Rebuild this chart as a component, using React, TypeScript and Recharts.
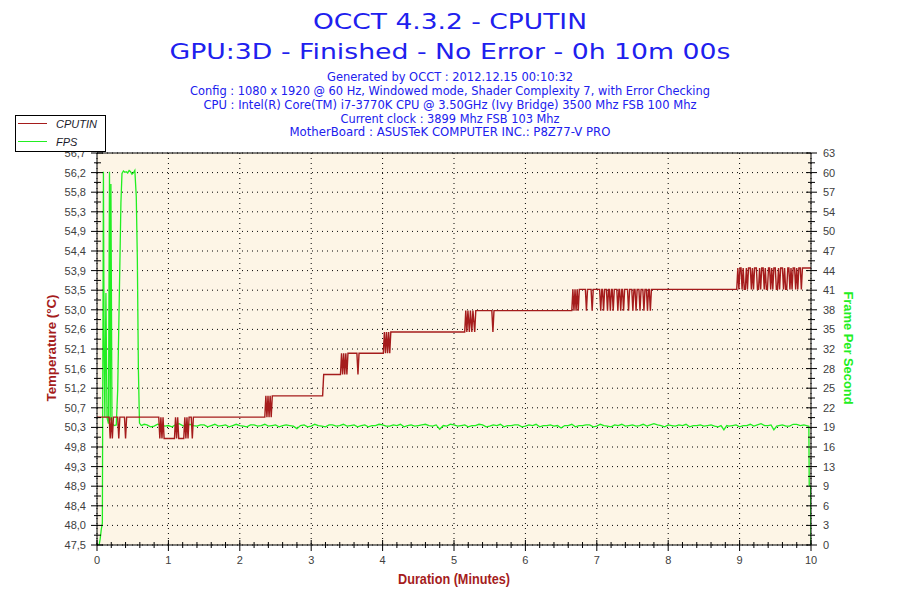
import React from "react";
import { LineChart, Line, XAxis, YAxis, CartesianGrid, ReferenceLine } from "recharts";

// ---- axis ticks / labels ----
const xMajor = [0, 1, 2, 3, 4, 5, 6, 7, 8, 9, 10];
const xLabels = ["0", "1", "2", "3", "4", "5", "6", "7", "8", "9", "10"];

const tempMajor = [47.5, 47.96, 48.42, 48.88, 49.34, 49.8, 50.26, 50.72, 51.18, 51.64, 52.1, 52.56, 53.02, 53.48, 53.94, 54.4, 54.86, 55.32, 55.78, 56.24, 56.7];
const tempLabels = ["47,5", "48,0", "48,4", "48,9", "49,3", "49,8", "50,3", "50,7", "51,2", "51,6", "52,1", "52,6", "53,0", "53,5", "53,9", "54,4", "54,9", "55,3", "55,8", "56,2", "56,7"];

const fpsMajor = [0, 3.15, 6.3, 9.45, 12.6, 15.75, 18.9, 22.05, 25.2, 28.35, 31.5, 34.65, 37.8, 40.95, 44.1, 47.25, 50.4, 53.55, 56.7, 59.85, 63];
const fpsLabels = ["0", "3", "6", "9", "13", "16", "19", "22", "25", "28", "32", "35", "38", "41", "44", "47", "50", "54", "57", "60", "63"];

// ---- series: [minutes, value] ----
const cputinSamples: [number, number][] = [
  [0, 50.5], [0.17, 50.5], [0.185, 50.0], [0.2, 50.5], [0.215, 50.0], [0.23, 50.5],
  [0.29, 50.5], [0.305, 50.0], [0.32, 50.5],
  [0.385, 50.5], [0.4, 50.0], [0.415, 50.5],
  [0.865, 50.5], [0.88, 50.0], [0.895, 50.5], [0.91, 50.0], [0.925, 50.5], [0.94, 50.0],
  [1.085, 50.0], [1.1, 50.5], [1.115, 50.0], [1.13, 50.5], [1.145, 50.0],
  [1.215, 50.0], [1.23, 50.5], [1.245, 50.0], [1.26, 50.5], [1.275, 50.0], [1.29, 50.5],
  [1.32, 50.5], [1.335, 50.0], [1.35, 50.5],
  [2.35, 50.5], [2.365, 51.0], [2.38, 50.5], [2.395, 51.0], [2.41, 50.5], [2.425, 51.0], [2.44, 50.5], [2.455, 51.0],
  [3.16, 51.0], [3.175, 51.5],
  [3.41, 51.5], [3.425, 52.0], [3.44, 51.5], [3.455, 52.0], [3.47, 51.5], [3.485, 52.0], [3.5, 51.5], [3.515, 52.0],
  [3.64, 52.0], [3.655, 51.5], [3.67, 52.0],
  [4.01, 52.0], [4.025, 52.5], [4.04, 52.0], [4.055, 52.5], [4.07, 52.0], [4.085, 52.5], [4.1, 52.0], [4.115, 52.5],
  [5.15, 52.5], [5.165, 53.0], [5.18, 52.5], [5.195, 53.0], [5.215, 52.5], [5.23, 53.0], [5.25, 52.5], [5.265, 53.0],
  [5.29, 52.5], [5.305, 53.0],
  [5.53, 53.0], [5.545, 52.5], [5.56, 53.0],
  [6.65, 53.0], [6.665, 53.5], [6.68, 53.0], [6.695, 53.5], [6.71, 53.0], [6.725, 53.5], [6.74, 53.0], [6.755, 53.5],
  [6.84, 53.5], [6.855, 53.0], [6.87, 53.5],
  [6.92, 53.5], [6.935, 53.0], [6.95, 53.5],
  [7.04, 53.5], [7.055, 53.0], [7.07, 53.5], [7.08, 53.5], [7.095, 53.0], [7.11, 53.5],
  [7.135, 53.5], [7.15, 53.0], [7.165, 53.5], [7.175, 53.5], [7.19, 53.0], [7.205, 53.5],
  [7.215, 53.5], [7.23, 53.0], [7.245, 53.5],
  [7.28, 53.5], [7.295, 53.0], [7.31, 53.5], [7.32, 53.5], [7.335, 53.0], [7.35, 53.5], [7.36, 53.5], [7.375, 53.0], [7.39, 53.5],
  [7.43, 53.5], [7.445, 53.0], [7.46, 53.5],
  [7.49, 53.5], [7.505, 53.0], [7.52, 53.5],
  [7.535, 53.5], [7.55, 53.0], [7.565, 53.5], [7.59, 53.5], [7.605, 53.0], [7.62, 53.5],
  [7.645, 53.5], [7.66, 53.0], [7.675, 53.5],
  [7.695, 53.5], [7.71, 53.0], [7.725, 53.5], [7.735, 53.5], [7.75, 53.0], [7.765, 53.5],
  [8.96, 53.5], [8.975, 54.0], [8.99, 53.5], [9.005, 54.0], [9.02, 54.0], [9.035, 53.5], [9.05, 54.0], [9.065, 53.5],
  [9.08, 53.5], [9.095, 54.0], [9.11, 53.5], [9.125, 54.0], [9.15, 54.0], [9.165, 53.5], [9.18, 54.0], [9.195, 53.5],
  [9.21, 54.0], [9.235, 54.0], [9.25, 53.5], [9.265, 53.5], [9.28, 54.0], [9.295, 53.5], [9.31, 54.0], [9.33, 54.0],
  [9.345, 53.5], [9.36, 54.0], [9.375, 53.5], [9.39, 53.5], [9.405, 54.0], [9.42, 54.0], [9.435, 53.5], [9.45, 54.0],
  [9.465, 53.5], [9.48, 54.0], [9.5, 54.0], [9.515, 53.5], [9.53, 53.5], [9.545, 54.0], [9.56, 53.5], [9.575, 54.0],
  [9.6, 54.0], [9.615, 53.5], [9.63, 54.0], [9.645, 53.5], [9.66, 53.5], [9.675, 54.0], [9.69, 54.0], [9.705, 53.5],
  [9.72, 54.0], [9.735, 53.5], [9.75, 54.0], [9.77, 54.0], [9.785, 53.5], [9.8, 54.0], [9.815, 53.5], [9.83, 54.0],
  [9.85, 54.0], [9.865, 53.5], [9.88, 54.0], [10, 54.0],
];

const fpsSamples: [number, number][] = [
  [0, 0], [0.03, 0], [0.045, 1], [0.06, 2.5], [0.075, 3.5], [0.09, 60], [0.1, 31], [0.11, 20.5],
  [0.125, 40.5], [0.14, 20.5], [0.16, 19.5], [0.175, 60], [0.185, 20], [0.195, 58], [0.21, 19.5],
  [0.24, 19.2], [0.27, 19.3], [0.29, 25], [0.305, 35], [0.32, 45], [0.335, 55], [0.35, 59.7],
  [0.37, 60.1], [0.39, 59.9], [0.41, 60], [0.43, 59.8], [0.45, 60.2], [0.47, 60], [0.49, 59.6],
  [0.51, 59.8], [0.53, 60.2], [0.55, 56], [0.565, 46], [0.58, 28], [0.595, 19.6],
  [0.62, 19.2], [0.66, 19.4], [0.7, 19.3], [0.75, 19.0], [0.8, 19.1], [0.85, 19.4], [0.9, 19.3], [0.95, 19.1],
  [1.0, 19.2], [1.05, 19.0], [1.1, 19.3], [1.15, 19.5], [1.2, 19.2], [1.25, 19.0], [1.3, 19.4], [1.35, 19.2],
  [1.4, 19.1], [1.45, 19.3], [1.5, 19.3], [1.55, 19.0], [1.6, 19.2], [1.65, 19.4], [1.7, 19.1], [1.75, 19.2],
  [1.8, 19.3], [1.85, 19.0], [1.9, 19.2], [1.95, 19.4], [2.0, 19.2], [2.05, 19.1], [2.1, 19.0], [2.15, 19.3],
  [2.2, 19.3], [2.25, 19.1], [2.3, 19.2], [2.35, 19.4], [2.4, 19.1], [2.45, 19.2], [2.5, 19.3], [2.55, 19.0],
  [2.6, 19.2], [2.65, 19.3], [2.7, 19.2], [2.75, 19.1], [2.8, 18.7], [2.85, 19.2], [2.9, 19.3], [2.95, 19.0],
  [3.0, 19.1], [3.05, 19.4], [3.1, 19.2], [3.15, 19.1], [3.2, 19.0], [3.25, 19.3], [3.3, 19.3], [3.35, 19.1],
  [3.4, 19.2], [3.45, 19.4], [3.5, 19.1], [3.55, 19.2], [3.6, 19.3], [3.65, 19.0], [3.7, 19.2], [3.75, 19.3],
  [3.8, 19.0], [3.85, 19.2], [3.9, 19.2], [3.95, 19.4], [4.0, 19.3], [4.05, 19.1], [4.1, 19.1], [4.15, 19.3],
  [4.2, 19.2], [4.25, 19.4], [4.3, 19.0], [4.35, 19.2], [4.4, 19.3], [4.45, 19.1], [4.5, 19.2], [4.55, 19.3],
  [4.6, 19.4], [4.65, 19.2], [4.7, 19.1], [4.75, 19.3], [4.8, 18.6], [4.85, 19.2], [4.9, 19.1], [4.95, 19.4],
  [5.0, 19.3], [5.05, 19.1], [5.1, 19.2], [5.15, 19.3], [5.2, 19.0], [5.25, 19.2], [5.3, 19.2], [5.35, 19.4],
  [5.4, 19.3], [5.45, 19.0], [5.5, 19.1], [5.55, 19.3], [5.6, 19.2], [5.65, 19.4], [5.7, 19.0], [5.75, 19.2],
  [5.8, 19.2], [5.85, 19.3], [5.9, 19.3], [5.95, 19.0], [6.0, 19.1], [6.05, 19.3], [6.1, 19.2], [6.15, 19.4],
  [6.2, 19.0], [6.25, 19.2], [6.3, 19.2], [6.35, 19.3], [6.4, 19.1], [6.45, 19.2], [6.5, 18.8], [6.55, 19.2],
  [6.6, 19.2], [6.65, 19.4], [6.7, 19.0], [6.75, 19.2], [6.8, 19.2], [6.85, 19.3], [6.9, 19.3], [6.95, 19.0],
  [7.0, 19.1], [7.05, 19.4], [7.1, 19.2], [7.15, 19.1], [7.2, 19.0], [7.25, 19.3], [7.3, 19.2], [7.35, 19.4],
  [7.4, 19.1], [7.45, 19.2], [7.5, 19.3], [7.55, 19.1], [7.6, 19.2], [7.65, 19.4], [7.7, 19.1], [7.75, 19.3],
  [7.8, 19.5], [7.85, 19.3], [7.9, 19.2], [7.95, 19.0], [8.0, 19.3], [8.05, 19.2], [8.1, 19.1], [8.15, 19.3],
  [8.2, 19.2], [8.25, 19.4], [8.3, 19.0], [8.35, 19.2], [8.4, 19.2], [8.45, 19.3], [8.5, 19.1], [8.55, 19.2],
  [8.6, 19.3], [8.65, 19.1], [8.7, 19.0], [8.74, 19.2], [8.78, 18.5], [8.82, 19.2], [8.85, 19.1], [8.9, 19.2],
  [8.95, 19.3], [9.0, 19.0], [9.05, 19.2], [9.1, 19.2], [9.15, 19.4], [9.2, 19.1], [9.25, 19.3], [9.3, 19.5],
  [9.35, 19.2], [9.4, 19.2], [9.44, 19.3], [9.48, 18.5], [9.52, 19.1], [9.55, 19.2], [9.6, 19.3], [9.65, 19.1],
  [9.7, 19.1], [9.75, 19.4], [9.8, 19.4], [9.85, 19.2], [9.9, 19.3], [9.97, 19.1], [9.975, 9.5], [9.995, 9.5], [10, 0],
];

const titleLines = ["OCCT 4.3.2 - CPUTIN", "GPU:3D - Finished - No Error - 0h 10m 00s"];
const infoLines = [
  "Generated by OCCT : 2012.12.15 00:10:32",
  "Config : 1080 x 1920 @ 60 Hz, Windowed mode, Shader Complexity 7, with Error Checking",
  "CPU : Intel(R) Core(TM) i7-3770K CPU @ 3.50GHz (Ivy Bridge) 3500 Mhz FSB 100 Mhz",
  "Current clock : 3899 Mhz FSB 103 Mhz",
  "MotherBoard : ASUSTeK COMPUTER INC.: P8Z77-V PRO",
];
const seriesNames = ["CPUTIN", "FPS"];

// ---- styling ----
const RED = "#A51C1C";
const GREEN = "#22EE22";
const BLUE = "#2020EE";
const TICK_COLOR = "#404040";
const TICK_FONT = "'Liberation Sans', Arial, sans-serif";
const TITLE_FONT = "'DejaVu Sans', Verdana, sans-serif";

const cputinData = cputinSamples.map(([t, v]) => ({ t, v }));
const fpsData = fpsSamples.map(([t, v]) => ({ t, v }));

function withMinor(major: number[], parts: number): number[] {
  const out: number[] = [];
  major.forEach((v, i) => {
    out.push(v);
    if (i < major.length - 1) {
      const next = major[i + 1];
      for (let k = 1; k < parts; k++) out.push(v + ((next - v) * k) / parts);
    }
  });
  return out;
}

const xTicks = withMinor(xMajor, 5);
const tempTicks = withMinor(tempMajor, 2);
const fpsTicks = withMinor(fpsMajor, 2);

function LeftTick(props: any) {
  const { x, y, index } = props;
  const major = index % 2 === 0;
  return (
    <g>
      <line x1={x - (major ? 6 : 3)} x2={x + (major ? 6 : 4)} y1={y} y2={y} stroke="#000" strokeWidth={1} />
      {major && (
        <text x={x - 11} y={y} dy="0.36em" textAnchor="end" fontSize={11} fontFamily={TICK_FONT} fill={TICK_COLOR}>
          {tempLabels[index / 2]}
        </text>
      )}
    </g>
  );
}

function RightTick(props: any) {
  const { x, y, index } = props;
  const major = index % 2 === 0;
  return (
    <g>
      <line x1={x - (major ? 5 : 3)} x2={x + (major ? 6 : 4)} y1={y} y2={y} stroke="#000" strokeWidth={1} />
      {major && (
        <text x={x + 12} y={y} dy="0.36em" textAnchor="start" fontSize={11} fontFamily={TICK_FONT} fill={TICK_COLOR}>
          {fpsLabels[index / 2]}
        </text>
      )}
    </g>
  );
}

function BottomTick(props: any) {
  const { x, y, index } = props;
  const major = index % 5 === 0;
  return (
    <g>
      <line x1={x} x2={x} y1={y - (major ? 5 : 3)} y2={y + (major ? 6 : 3)} stroke="#000" strokeWidth={1} />
      {major && (
        <text x={x} y={y + 19} textAnchor="middle" fontSize={11} fontFamily={TICK_FONT} fill={TICK_COLOR}>
          {xLabels[index / 5]}
        </text>
      )}
    </g>
  );
}

export default function App() {
  return (
    <div style={{ position: "absolute", left: 0, top: 0, width: 900, height: 600, background: "#fff" }}>
      <LineChart width={900} height={600} margin={{ top: 153, right: 44, bottom: 25, left: 0 }}>
        <CartesianGrid
          xAxisId="x"
          yAxisId="left"
          fill="#FDF5E6"
          stroke="#000"
          strokeDasharray="1 4"
          horizontalValues={tempMajor}
          verticalValues={xMajor}
        />
        <XAxis
          xAxisId="x"
          dataKey="t"
          type="number"
          domain={[0, 10]}
          ticks={xTicks}
          interval={0}
          allowDataOverflow
          height={30}
          tickSize={0}
          tickMargin={0}
          tickLine={false}
          axisLine={{ stroke: "#000" }}
          tick={(p: any) => <BottomTick {...p} />}
        />
        <YAxis
          yAxisId="left"
          orientation="left"
          type="number"
          domain={[47.5, 56.7]}
          ticks={tempTicks}
          interval={0}
          allowDataOverflow
          width={97}
          tickSize={0}
          tickMargin={0}
          tickLine={false}
          axisLine={{ stroke: "#000" }}
          tick={(p: any) => <LeftTick {...p} />}
        />
        <YAxis
          yAxisId="right"
          orientation="right"
          type="number"
          domain={[0, 63]}
          ticks={fpsTicks}
          interval={0}
          allowDataOverflow
          width={45}
          tickSize={0}
          tickMargin={0}
          tickLine={false}
          axisLine={{ stroke: "#000" }}
          tick={(p: any) => <RightTick {...p} />}
        />
        <ReferenceLine xAxisId="x" yAxisId="left" y={56.7} stroke="#000" strokeWidth={1} />
        <Line
          xAxisId="x"
          yAxisId="right"
          data={fpsData}
          dataKey="v"
          name={seriesNames[1]}
          type="linear"
          stroke={GREEN}
          strokeWidth={1.3}
          dot={false}
          activeDot={false}
          isAnimationActive={false}
        />
        <Line
          xAxisId="x"
          yAxisId="left"
          data={cputinData}
          dataKey="v"
          name={seriesNames[0]}
          type="linear"
          stroke={RED}
          strokeWidth={1.4}
          dot={false}
          activeDot={false}
          isAnimationActive={false}
        />
      </LineChart>
      <svg width={900} height={600} style={{ position: "absolute", left: 0, top: 0, pointerEvents: "none" }}>
        <text x={450} y={28.5} textAnchor="middle" fontSize={22} fontFamily={TITLE_FONT} fill={BLUE} textLength={274} lengthAdjust="spacingAndGlyphs">
          {titleLines[0]}
        </text>
        <text x={450} y={58.5} textAnchor="middle" fontSize={22} fontFamily={TITLE_FONT} fill={BLUE} textLength={561} lengthAdjust="spacingAndGlyphs">
          {titleLines[1]}
        </text>
        {infoLines.map((line, i) => (
          <text
            key={i}
            x={450}
            y={[81, 95, 109, 122.7, 136][i]}
            textAnchor="middle"
            fontSize={12}
            fontFamily={TITLE_FONT}
            fill={BLUE}
            textLength={[246, 520, 493, 219, 321][i]}
            lengthAdjust="spacingAndGlyphs"
          >
            {line}
          </text>
        ))}
        {/* legend */}
        <rect x={15.5} y={115.5} width={90} height={36} fill="#fff" stroke="#000" strokeWidth={1} />
        <line x1={18} x2={47} y1={123.5} y2={123.5} stroke={RED} strokeWidth={1} />
        <line x1={18} x2={47} y1={141.5} y2={141.5} stroke={GREEN} strokeWidth={1} />
        <text x={56} y={127.5} fontSize={11} fontStyle="italic" fontFamily={TICK_FONT} fill="#1a1a2a">
          {seriesNames[0]}
        </text>
        <text x={56} y={145.5} fontSize={11} fontStyle="italic" fontFamily={TICK_FONT} fill="#1a1a2a">
          {seriesNames[1]}
        </text>
        {/* axis titles */}
        <text
          x={51}
          y={348}
          transform="rotate(-90 51 348)"
          textAnchor="middle"
          dy="0.36em"
          fontSize={13}
          fontWeight="bold"
          fontFamily={TICK_FONT}
          fill={RED}
          textLength={107}
          lengthAdjust="spacingAndGlyphs"
        >
          Temperature (°C)
        </text>
        <text
          x={848.5}
          y={348}
          transform="rotate(90 848.5 348)"
          textAnchor="middle"
          dy="0.36em"
          fontSize={13}
          fontWeight="bold"
          fontFamily={TICK_FONT}
          fill={GREEN}
          textLength={113}
          lengthAdjust="spacingAndGlyphs"
        >
          Frame Per Second
        </text>
        <text
          x={454}
          y={584}
          textAnchor="middle"
          fontSize={14}
          fontWeight="bold"
          fontFamily={TICK_FONT}
          fill={RED}
          textLength={112}
          lengthAdjust="spacingAndGlyphs"
        >
          Duration (Minutes)
        </text>
      </svg>
    </div>
  );
}
